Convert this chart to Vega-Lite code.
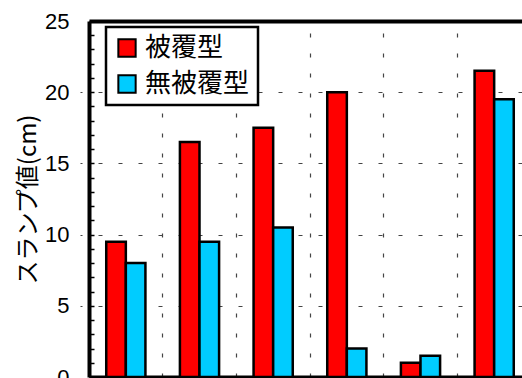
{
  "$schema": "https://vega.github.io/schema/vega-lite/v6.json",
  "autosize": {"type": "none"},
  "padding": {"left": 89, "top": 21, "right": 0, "bottom": 1},
  "width": 433,
  "height": 356,
  "background": "white",
  "config": {
    "view": {"stroke": null},
    "font": "Liberation Sans"
  },
  "data": {
    "values": [
      {"No": "1", "型": "被覆型", "スランプ": 9.5},
      {"No": "1", "型": "無被覆型", "スランプ": 8.0},
      {"No": "2", "型": "被覆型", "スランプ": 16.5},
      {"No": "2", "型": "無被覆型", "スランプ": 9.5},
      {"No": "3", "型": "被覆型", "スランプ": 17.5},
      {"No": "3", "型": "無被覆型", "スランプ": 10.5},
      {"No": "4", "型": "被覆型", "スランプ": 20.0},
      {"No": "4", "型": "無被覆型", "スランプ": 2.0},
      {"No": "5", "型": "被覆型", "スランプ": 1.0},
      {"No": "5", "型": "無被覆型", "スランプ": 1.5},
      {"No": "6", "型": "被覆型", "スランプ": 21.5},
      {"No": "6", "型": "無被覆型", "スランプ": 19.5}
    ]
  },
  "layer": [
    {
      "mark": {"type": "bar", "stroke": "black", "strokeWidth": 2.5},
      "encoding": {
        "x": {
          "field": "No",
          "type": "nominal",
          "sort": null,
          "scale": {"range": [0, 442], "paddingInner": 0, "paddingOuter": 0},
          "axis": {
            "orient": "top",
            "title": null,
            "labels": false,
            "ticks": false,
            "domainColor": "black",
            "domainWidth": 4,
            "grid": true,
            "bandPosition": 0,
            "gridDash": [4, 16],
            "gridColor": "#444444",
            "gridWidth": 1.2
          }
        },
        "xOffset": {
          "field": "型",
          "type": "nominal",
          "sort": ["被覆型", "無被覆型"],
          "scale": {"paddingInner": 0, "paddingOuter": 0.88}
        },
        "y": {
          "field": "スランプ",
          "type": "quantitative",
          "scale": {"domain": [0, 25], "nice": false},
          "axis": {
            "title": "スランプ値(cm)",
            "titleFont": "Noto Sans CJK JP",
            "titleFontSize": 24,
            "titleFontWeight": "normal",
            "titleColor": "black",
            "titlePadding": 4,
            "values": [0, 1, 2, 3, 4, 5, 6, 7, 8, 9, 10, 11, 12, 13, 14, 15, 16, 17, 18, 19, 20, 21, 22, 23, 24, 25],
            "labelExpr": "datum.value % 5 === 0 ? datum.label : ''",
            "labelFontSize": 22,
            "labelColor": "black",
            "labelPadding": 25,
            "tickSize": -5,
            "tickWidth": 1.5,
            "tickColor": "black",
            "domainColor": "black",
            "domainWidth": 4,
            "grid": false
          }
        },
        "color": {
          "field": "型",
          "type": "nominal",
          "scale": {"domain": ["被覆型", "無被覆型"], "range": ["#ff0000", "#00ccff"]},
          "legend": {
            "orient": "none",
            "legendX": 17,
            "legendY": 6,
            "title": null,
            "symbolType": "square",
            "symbolSize": 300,
            "symbolStrokeColor": "black",
            "symbolStrokeWidth": 2,
            "symbolOpacity": 1,
            "labelFont": "Noto Sans CJK JP",
            "labelFontSize": 26,
            "labelColor": "black",
            "labelOffset": 5,
            "rowPadding": 10,
            "padding": 8,
            "strokeColor": "black",
            "fillColor": "white",
            "encode": {
              "legend": {"update": {"strokeWidth": {"value": 2.5}}}
            }
          }
        }
      }
    },
    {
      "mark": {"type": "bar", "opacity": 0},
      "encoding": {
        "x": {
          "field": "No",
          "type": "nominal",
          "sort": null,
          "axis": {
            "orient": "bottom",
            "title": null,
            "labels": false,
            "ticks": false,
            "grid": false,
            "domainColor": "black",
            "domainWidth": 4
          }
        },
        "y": {
          "field": "スランプ",
          "type": "quantitative",
          "axis": {
            "orient": "right",
            "title": null,
            "values": [5, 10, 15, 20],
            "labels": false,
            "ticks": false,
            "domain": false,
            "grid": true,
            "gridDash": [4, 16],
            "gridColor": "#444444",
            "gridWidth": 1.2
          }
        }
      }
    }
  ],
  "resolve": {"axis": {"x": "independent", "y": "independent"}}
}
